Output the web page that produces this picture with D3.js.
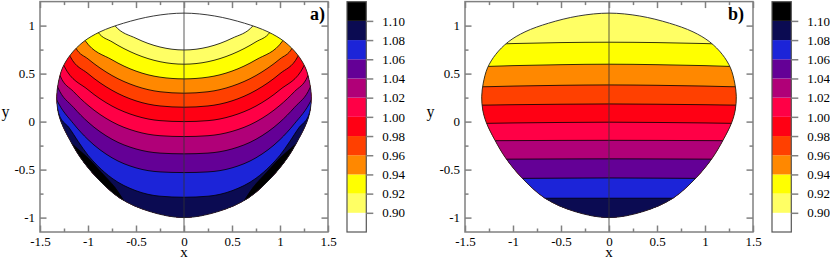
<!DOCTYPE html>
<html>
<head>
<meta charset="utf-8">
<script src="https://cdn.jsdelivr.net/npm/d3@7"></script>
<style>
  body { margin: 0; background: #fff; }
  svg text { font-family: "Liberation Serif", "Times New Roman", serif; fill: #000; }
  .frame { fill: none; stroke: #808080; stroke-width: 1.5; }
  .axis path { display: none; }
  .axis line { stroke: #808080; stroke-width: 1.5; }
  .axis text { font-size: 13px; font-family: "Liberation Serif", "Times New Roman", serif; }
  .contour { fill: none; stroke: #000; stroke-width: 0.8; }
  .edge { fill: none; stroke: #222; stroke-width: 0.9; }
  .zero { stroke: #333; stroke-width: 1; stroke-opacity: 0.8; }
  .cbar { fill: none; stroke: #555; stroke-width: 1.2; }
</style>
</head>
<body>
<svg width="830" height="260"></svg>
<script>
// contour levels and the colour of each bin (below 0.90 ... above 1.10)
var levels = [0.90, 0.92, 0.94, 0.96, 0.98, 1.00, 1.02, 1.04, 1.06, 1.08, 1.10];
var binColors = ["#ffffff", "#ffff64", "#ffff00", "#ff8800", "#ff4000", "#ff0014",
                 "#ff0046", "#b00078", "#640096", "#1c24d8", "#0b0b52", "#000000"];

// axis ticks
var xTicks = [-1.5, -1, -0.5, 0, 0.5, 1, 1.5];
var xMinor = [-1.25, -0.75, -0.25, 0.25, 0.75, 1.25];
var yTicks = [-1, -0.5, 0, 0.5, 1];
var yMinor = [-0.75, -0.25, 0.25, 0.75];

// domain outline, right half from top to bottom (left half is the mirror)
var edgeX = [0, 0.32, 0.63, 0.875, 1.05, 1.18, 1.265, 1.31, 1.326, 1.315, 1.278, 1.19, 1.076, 0.91, 0.667, 0.354, 0];
var edgeY = [1.13, 1.10, 1.025, 0.935, 0.83, 0.70, 0.56, 0.40, 0.26, 0.12, -0.01, -0.19, -0.38, -0.583, -0.798, -0.9375, -1.0];

// panel a) contour lines 0.90 .. 1.08, right half [x, y], last point lies outside the outline
var contoursA = [
  [[0, 0.746], [0.25, 0.777], [0.5, 0.868], [0.72, 1.0], [0.82, 1.3]],
  [[0, 0.598], [0.25, 0.624], [0.5, 0.702], [0.75, 0.831], [0.895, 0.93], [0.97, 1.25]],
  [[0, 0.445], [0.25, 0.463], [0.5, 0.526], [0.75, 0.644], [1.03, 0.844], [1.1, 1.2]],
  [[0, 0.296], [0.25, 0.311], [0.5, 0.369], [0.75, 0.48], [1.0, 0.653], [1.125, 0.764], [1.2, 1.1]],
  [[0, 0.15], [0.25, 0.163], [0.5, 0.216], [0.75, 0.326], [1.0, 0.5], [1.185, 0.677], [1.26, 1.0]],
  [[0, 0.0], [0.25, 0.01], [0.5, 0.059], [0.75, 0.162], [1.0, 0.332], [1.25, 0.58], [1.32, 0.9]],
  [[0, -0.156], [0.25, -0.147], [0.5, -0.102], [0.75, -0.002], [1.0, 0.17], [1.15, 0.312], [1.29, 0.476], [1.36, 0.8]],
  [[0, -0.336], [0.25, -0.328], [0.5, -0.285], [0.75, -0.184], [1.0, -0.005], [1.15, 0.147], [1.315, 0.358], [1.4, 0.6]],
  [[0, -0.531], [0.25, -0.524], [0.5, -0.482], [0.75, -0.377], [1.0, -0.187], [1.15, -0.023], [1.326, 0.226], [1.42, 0.45]],
  [[0, -0.788], [0.25, -0.777], [0.5, -0.72], [0.75, -0.59], [0.9, -0.46], [1.0, -0.35], [1.1, -0.21], [1.2, -0.06], [1.29, 0.045], [1.38, 0.3]]
];
// panel a) level 1.10 : thin pocket along the lower side, right half
var pocketA = [[1.3, -0.08], [1.2, -0.2], [1.01, -0.37], [0.86, -0.53], [0.72, -0.685], [0.63, -0.82], [0.55, -0.95]];

// panel b) contour lines 0.92 .. 1.08, y at x = 0, 0.5, 1, 1.5
var contourXB = [0, 0.5, 1.0, 1.5];
var contoursB = [
  [0.827, 0.823, 0.813, 0.80],
  [0.598, 0.593, 0.583, 0.57],
  [0.382, 0.378, 0.37, 0.36],
  [0.184, 0.181, 0.176, 0.17],
  [-0.006, -0.009, -0.014, -0.02],
  [-0.195, -0.196, -0.198, -0.20],
  [-0.388, -0.389, -0.391, -0.393],
  [-0.587, -0.589, -0.592, -0.595],
  [-0.798, -0.798, -0.799, -0.80]
];

var svg = d3.select("svg");

function mirror(half) {
  var left = half.slice(1).map(function(p) { return [-p[0], p[1]]; }).reverse();
  return left.concat(half);
}

var edgeHalf = edgeX.map(function(d, i) { return [d, edgeY[i]]; });
var edgeFull = edgeHalf.concat(edgeHalf.slice(1, -1).map(function(p) { return [-p[0], p[1]]; }).reverse());

var panels = [
  { id: "a", left: 40, label: "a)", labelX: 310, base: 0,
    lines: contoursA, first: 0 },
  { id: "b", left: 465, label: "b)", labelX: 728, base: 1,
    lines: contoursB.map(function(r) { return r.map(function(v, j) { return [contourXB[j], v]; }); }), first: 1 }
];

panels.forEach(function(p) {
  var x = d3.scaleLinear().domain([-1.5, 1.5]).range([p.left, p.left + 288]);
  var y = d3.scaleLinear().domain([-1.15, 1.25]).range([232, 1.6]);
  var g = svg.append("g");

  var edgeLine = d3.line().x(function(d) { return x(d[0]); }).y(function(d) { return y(d[1]); })
      .curve(d3.curveCatmullRomClosed.alpha(0.5));
  var cLine = d3.line().x(function(d) { return x(d[0]); }).y(function(d) { return y(d[1]); })
      .curve(d3.curveMonotoneX);

  g.append("clipPath").attr("id", "clip" + p.id)
    .append("path").attr("d", edgeLine(edgeFull));

  var inner = g.append("g").attr("clip-path", "url(#clip" + p.id + ")");
  inner.append("path").attr("d", edgeLine(edgeFull)).attr("fill", binColors[p.base]);

  var paths = p.lines.map(function(half) {
    var pts = mirror(half);
    var a = pts[0], b = pts[pts.length - 1];
    return [[-1.7, a[1]]].concat(pts, [[1.7, b[1]]]);
  });

  paths.forEach(function(pts, i) {
    var k = p.first + i;
    inner.append("path")
      .attr("d", cLine(pts) + "L" + x(1.7) + "," + y(-1.4) + "L" + x(-1.7) + "," + y(-1.4) + "Z")
      .attr("fill", binColors[k + 1]);
  });

  if (p.id === "a") {
    var pLine = d3.line().x(function(d) { return x(d[0]); }).y(function(d) { return y(d[1]); })
        .curve(d3.curveCatmullRom.alpha(0.5));
    [1, -1].forEach(function(s) {
      var pts = pocketA.map(function(q) { return [s * q[0], q[1]]; });
      inner.append("path")
        .attr("d", pLine(pts) + "L" + x(s * 1.7) + "," + y(-1.4) + "L" + x(s * 1.7) + "," + y(-0.08) + "Z")
        .attr("fill", binColors[11]);
      inner.append("path").attr("class", "contour").attr("d", pLine(pts));
    });
  }

  paths.forEach(function(pts) {
    inner.append("path").attr("class", "contour").attr("d", cLine(pts));
  });

  g.append("path").attr("class", "edge").attr("d", edgeLine(edgeFull));

  g.append("line").attr("class", "zero")
    .attr("x1", x(0)).attr("x2", x(0)).attr("y1", y(1.25)).attr("y2", y(-1.15));

  // axes, ticks inside on all four sides
  var fmt = function(d) { return String(d); };
  g.append("g").attr("class", "axis").attr("transform", "translate(0," + y(-1.15) + ")")
    .call(d3.axisBottom(x).tickValues(xTicks).tickSize(-6.5).tickPadding(4.5).tickFormat(fmt));
  g.append("g").attr("class", "axis").attr("transform", "translate(0," + y(-1.15) + ")")
    .call(d3.axisBottom(x).tickValues(xMinor).tickSize(-3.5).tickFormat(""));
  g.append("g").attr("class", "axis").attr("transform", "translate(0," + y(1.25) + ")")
    .call(d3.axisTop(x).tickValues(xTicks).tickSize(-6.5).tickFormat(""));
  g.append("g").attr("class", "axis").attr("transform", "translate(0," + y(1.25) + ")")
    .call(d3.axisTop(x).tickValues(xMinor).tickSize(-3.5).tickFormat(""));
  g.append("g").attr("class", "axis").attr("transform", "translate(" + x(-1.5) + ",0)")
    .call(d3.axisLeft(y).tickValues(yTicks).tickSize(-6.5).tickPadding(5).tickFormat(fmt));
  g.append("g").attr("class", "axis").attr("transform", "translate(" + x(-1.5) + ",0)")
    .call(d3.axisLeft(y).tickValues(yMinor).tickSize(-3.5).tickFormat(""));
  g.append("g").attr("class", "axis").attr("transform", "translate(" + x(1.5) + ",0)")
    .call(d3.axisRight(y).tickValues(yTicks).tickSize(-6.5).tickFormat(""));
  g.append("g").attr("class", "axis").attr("transform", "translate(" + x(1.5) + ",0)")
    .call(d3.axisRight(y).tickValues(yMinor).tickSize(-3.5).tickFormat(""));

  g.append("rect").attr("class", "frame")
    .attr("x", x(-1.5)).attr("y", y(1.25)).attr("width", x(1.5) - x(-1.5)).attr("height", y(-1.15) - y(1.25));

  g.append("text").attr("x", x(0)).attr("y", 256.5).attr("text-anchor", "middle")
    .style("font-size", "15px").text("x");
  g.append("text").attr("x", p.left - 34.5).attr("y", 117).attr("text-anchor", "middle")
    .style("font-size", "16px").text("y");
  g.append("text").attr("x", p.labelX).attr("y", 19.5)
    .style("font-size", "18px").style("font-weight", "bold").text(p.label);

  // colour bar
  var cx = p.left + 307;
  var cy = d3.scaleLinear().domain([0, 12]).range([232, 1.7]);
  var cb = g.append("g").attr("transform", "translate(" + cx + ",0)");
  cb.selectAll("rect.bin").data(binColors).enter().append("rect").attr("class", "bin")
    .attr("x", 0).attr("width", 19.3)
    .attr("y", function(d, i) { return cy(i + 1); })
    .attr("height", function(d, i) { return cy(i) - cy(i + 1); })
    .attr("fill", function(d) { return d; });
  cb.append("rect").attr("class", "cbar").attr("x", 0).attr("y", cy(12)).attr("width", 19.3).attr("height", cy(0) - cy(12));
  cb.append("g").attr("class", "axis").attr("transform", "translate(19.3,0)")
    .call(d3.axisRight(cy).tickValues(d3.range(1, 12)).tickSize(7).tickPadding(9)
      .tickFormat(function(i) { return levels[i - 1].toFixed(2); }));
});

svg.selectAll(".axis text").attr("font-family", null).style("font-size", "13px");
svg.selectAll(".axis").attr("font-family", null).attr("font-size", null);
</script>
</body>
</html>
